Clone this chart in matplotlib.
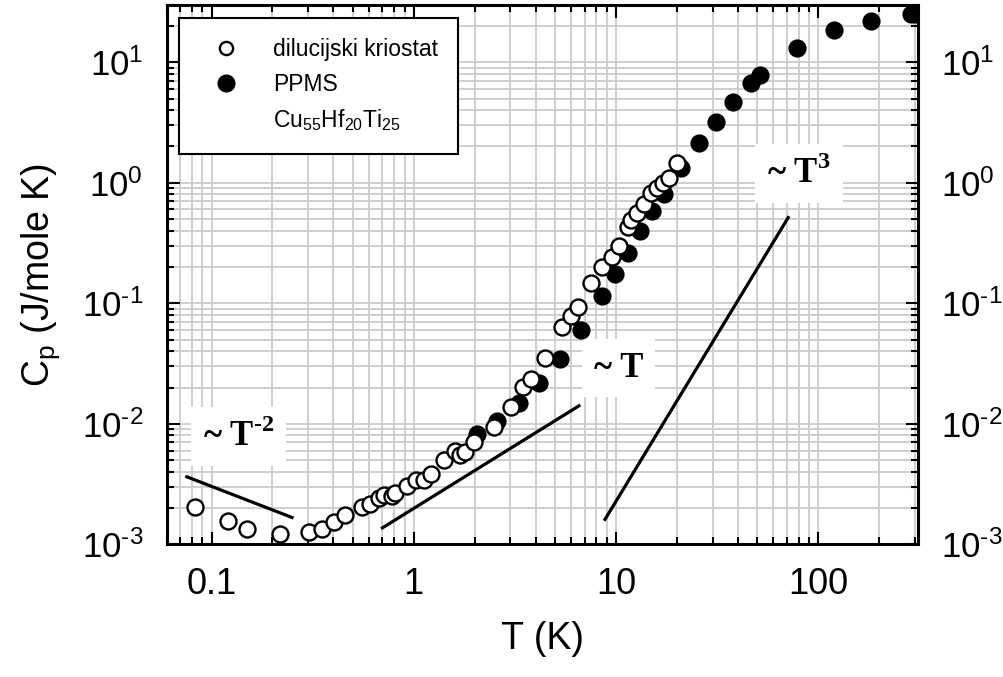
import matplotlib
matplotlib.use("Agg")
import matplotlib.pyplot as plt
from matplotlib.lines import Line2D
from matplotlib.ticker import FixedLocator, FuncFormatter, LogLocator
import numpy as np

plt.rcParams['font.family'] = ['Liberation Sans', 'DejaVu Sans']

# dilution refrigerator data (open circles)
dil_T = [0.083, 0.120, 0.150, 0.219, 0.302, 0.352, 0.402, 0.459, 0.555, 0.61,
         0.671, 0.71, 0.78, 0.81, 0.927, 1.02, 1.12, 1.21, 1.41, 1.60, 1.70,
         1.80, 1.98, 2.49, 3.01, 3.46, 3.78, 4.44, 5.42, 5.97, 6.49, 7.5, 8.5,
         9.6, 10.35, 11.4, 11.9, 12.7, 13.8, 14.9, 16.0, 17.1, 18.2, 20.1]
dil_Cp = [0.00205, 0.00156, 0.00134, 0.00122, 0.00127, 0.00133, 0.00154,
          0.00175, 0.00205, 0.00218, 0.0024, 0.00255, 0.0025, 0.00264, 0.00305,
          0.0034, 0.0034, 0.00386, 0.00497, 0.006, 0.00547, 0.0058, 0.00706,
          0.0094, 0.0137, 0.0201, 0.0236, 0.0349, 0.0637, 0.0785, 0.094, 0.146,
          0.2, 0.243, 0.298, 0.427, 0.489, 0.56, 0.67, 0.82, 0.9, 1.0, 1.09, 1.45]

# PPMS data (filled circles)
ppms_T = [2.06, 2.58, 3.31, 4.16, 5.26, 6.69, 8.5, 9.9, 11.4, 13.2, 15.1, 17.3,
          20.9, 25.8, 31.2, 37.7, 46.4, 51.6, 78.9, 120, 182, 288, 302]
ppms_Cp = [0.0083, 0.0106, 0.0149, 0.022, 0.0344, 0.0602, 0.115, 0.174, 0.262,
           0.396, 0.58, 0.806, 1.32, 2.13, 3.21, 4.7, 6.67, 7.8, 13.2, 18.6,
           21.9, 25.2, 25.0]

# guide lines for power laws
tm2_T, tm2_Cp = [0.0755, 0.25], [0.00363, 0.00167]
t1_T, t1_Cp = [0.70, 6.56], [0.00137, 0.0141]
t3_T, t3_Cp = [8.82, 71], [0.00161, 0.514]

HY = '\u2010'  # short hyphen instead of the wide math minus


def ylab(v, pos):
    e = int(round(np.log10(v)))
    s = str(e).replace('-', HY)
    return r'$\mathdefault{10^{%s}}$' % s


fig = plt.figure(figsize=(10.04, 6.77), dpi=100)
ax = fig.add_axes([0.166, 0.196, 0.748, 0.797])
ax.set_xscale('log')
ax.set_yscale('log')
ax.set_xlim(0.06, 310)
ax.set_ylim(1e-3, 30)

ax.grid(True, which='both', color='#cccccc', linewidth=1.3, zorder=0)
ax.set_axisbelow(True)

for xs, ys in [(tm2_T, tm2_Cp), (t1_T, t1_Cp), (t3_T, t3_Cp)]:
    ax.plot(xs, ys, color='black', linewidth=2.3, zorder=4)

ax.plot(ppms_T, ppms_Cp, 'o', color='black', ms=11.5, mew=1.6, zorder=5)
ax.plot(dil_T, dil_Cp, 'o', mfc='white', mec='black', ms=11.5, mew=1.7, zorder=6)

box = dict(boxstyle='square,pad=0.35', fc='white', ec='none')
serif = dict(family=['Liberation Serif', 'DejaVu Serif'], fontweight='bold',
             fontsize=25, ha='center', va='center', bbox=box, zorder=3)
ax.text(0.136, 0.0078, r'~ T$^{\mathdefault{%s2}}$' % HY, **serif)
ax.text(10.3, 0.029, '~ T', **serif)
ax.text(80.5, 1.2, r'~ T$^{\mathdefault{3}}$', **serif)

# axes styling
for s in ax.spines.values():
    s.set_linewidth(2.2)
ax.xaxis.set_major_locator(FixedLocator([0.1, 1, 10, 100]))
ax.xaxis.set_major_formatter(FuncFormatter(lambda v, p: '%g' % v))
ax.xaxis.set_minor_locator(LogLocator(base=10, subs=range(2, 10), numticks=20))
ax.yaxis.set_major_locator(FixedLocator([1e-3, 1e-2, 1e-1, 1, 10]))
ax.yaxis.set_major_formatter(FuncFormatter(ylab))
ax.yaxis.set_minor_locator(LogLocator(base=10, subs=range(2, 10), numticks=20))
ax.tick_params(which='both', direction='in', top=True, right=True,
               labelright=True, width=1.5)
ax.tick_params(which='major', length=9)
ax.tick_params(which='minor', length=5)
ax.tick_params(axis='x', which='major', labelsize=26, pad=16)
ax.tick_params(axis='y', which='major', labelsize=25, pad=17)

ax.set_xlabel('T (K)', fontsize=27, labelpad=14)
ax.set_ylabel(r'C$_\mathdefault{p}$ (J/mole K)', fontsize=27, labelpad=14)

handles = [
    Line2D([], [], marker='o', ls='none', mfc='white', mec='black', ms=9.5, mew=1.7),
    Line2D([], [], marker='o', ls='none', color='black', ms=12),
    Line2D([], [], marker='none', ls='none'),
]
labels = ['dilucijski kriostat', 'PPMS',
          r'Cu$_{\mathdefault{55}}$Hf$_{\mathdefault{20}}$Ti$_{\mathdefault{25}}$']
leg = ax.legend(handles, labels, loc='upper left', bbox_to_anchor=(0.016, 0.976),
                fontsize=16.5, frameon=True, fancybox=False, edgecolor='black',
                borderaxespad=0, handletextpad=0.9, labelspacing=0.5,
                borderpad=0.9, handlelength=2.3)
leg.get_frame().set_linewidth(1.5)
leg.get_frame().set_alpha(1)
leg.set_zorder(10)

fig.savefig('out.png', dpi=100)
